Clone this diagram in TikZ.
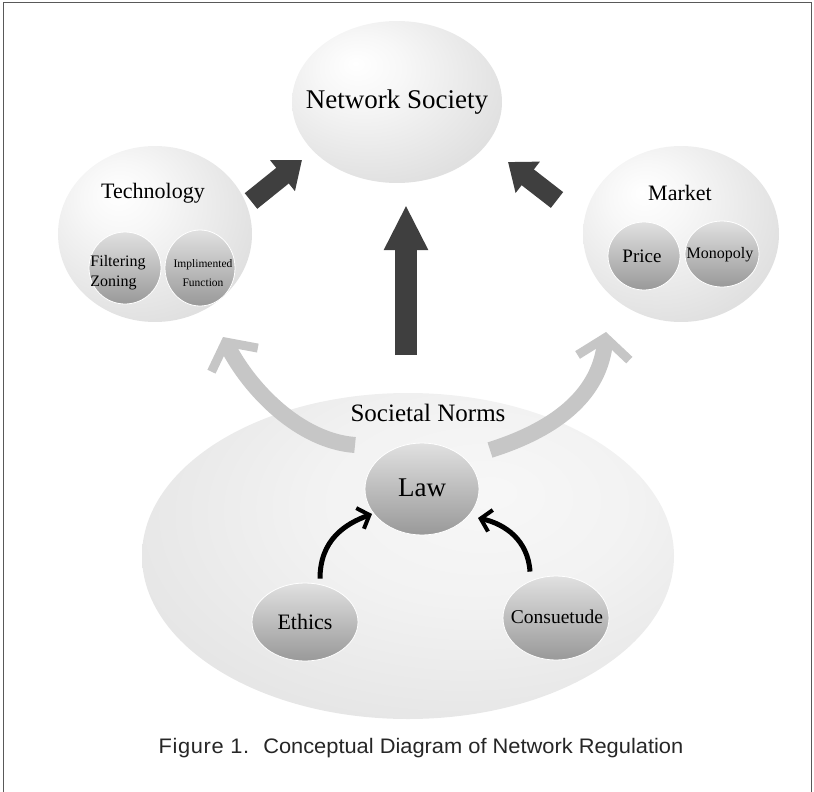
\documentclass[tikz,border=0pt]{standalone}
\usepackage{fontspec}
\setmainfont{Liberation Serif}
\newfontfamily\capfont[FakeStretch=1.04]{Liberation Sans}
\usetikzlibrary{shapes.geometric,arrows.meta}
\pgfdeclareradialshading{softball}{\pgfpoint{-10bp}{12bp}}{color(0bp)=(white); color(10bp)=(white!97!black); color(45bp)=(white!83!black); color(75bp)=(white!68!black)}
\pgfdeclareradialshading{normball}{\pgfpoint{8bp}{10bp}}{color(0bp)=(white!97!black); color(15bp)=(white!95!black); color(50bp)=(white!85!black); color(75bp)=(white!78!black)}
\definecolor{darkarr}{HTML}{3F3F3F}
\definecolor{lightarr}{HTML}{C6C6C6}
\tikzset{
  outerblob/.style={ellipse, inner sep=0pt, shading=softball},
  normblob/.style={ellipse, inner sep=0pt, shading=normball},
  innerball/.style={ellipse, inner sep=0pt, top color=white!88!black, bottom color=white!60!black, draw=white, line width=0.8pt},
  lbl/.style={inner sep=0pt, text=black},
  bigarr/.style={draw=darkarr, line width=#1, line cap=butt},
  lightcurve/.style={draw=lightarr, line width=16pt, line cap=butt, -{Straight Barb[length=20pt,width=52pt,line width=9pt]}},
  blackcurve/.style={draw=black, line width=5pt, line cap=butt, -{Straight Barb[length=10pt,width=22pt,line width=4pt]}},
}
\begin{document}
\begin{tikzpicture}[x=1pt,y=-1pt]
\useasboundingbox (0,0) rectangle (814,792);
\draw[gray!70!black, line width=1pt] (3,800) -- (3,3) -- (811,3) -- (811,800);

% outer ellipses
\node[outerblob, minimum width=210pt, minimum height=162pt] (ns) at (397,102) {};
\node[outerblob, minimum width=194pt, minimum height=176pt] (tech) at (155,234) {};
\node[outerblob, minimum width=196pt, minimum height=176pt] (mkt) at (681,234) {};
\node[normblob, minimum width=532pt, minimum height=326pt] (norms) at (408,556) {};

% labels
\node[lbl, font=\fontsize{27}{30}\selectfont] (nslbl) at (ns.center) {Network Society};
\node[lbl, font=\fontsize{22}{24}\selectfont] (techlbl) at (153,193) {Technology};
\node[lbl, font=\fontsize{22}{24}\selectfont] (mktlbl) at (680,193) {Market};
\node[lbl, font=\fontsize{25}{28}\selectfont] (normslbl) at (428,413) {Societal Norms};

% inner balls
\node[innerball, minimum width=72pt, minimum height=72pt] (filt) at (125,268) {};
\node[innerball, minimum width=70pt, minimum height=76pt] (impl) at (200,268) {};
\node[lbl, font=\fontsize{16}{20}\selectfont, align=left] (filtlbl) at (118,273) {Filtering\\Zoning};
\node[lbl, font=\fontsize{11.5}{19}\selectfont, align=center] (impllbl) at (203,273) {Implimented\\Function};
\node[innerball, minimum width=72pt, minimum height=68pt] (price) at (644,256) {};
\node[innerball, minimum width=74pt, minimum height=66pt] (mono) at (722,254) {};
\node[lbl, font=\fontsize{19}{22}\selectfont] (pricelbl) at (642,256) {Price};
\node[lbl, font=\fontsize{16}{20}\selectfont] (monolbl) at (720,255) {Monopoly};

% dark arrows
\coordinate (vt) at (406,355);
\coordinate (vh) at (406,205);
\draw[bigarr=22pt, -{Triangle[length=45pt,width=41pt]}] (vt) -- (vh);
\coordinate (lt) at (251,201);
\coordinate (lh) at (302,160);
\draw[bigarr=20pt, -{Triangle[length=25pt,width=38pt]}] (lt) -- (lh);
\coordinate (rt) at (557,200);
\coordinate (rh) at (508,162);
\draw[bigarr=20pt, -{Triangle[length=25pt,width=38pt]}] (rt) -- (rh);

% light curved arrows
\coordinate (llt) at (355,445);
\coordinate (llh) at (223,337);
\draw[lightcurve] (llt) .. controls (300,441) and (250,390) .. (llh);
\coordinate (rlt) at (490,450);
\coordinate (rlh) at (606,332);
\draw[lightcurve] (rlt) .. controls (560,428) and (600,392) .. (rlh);

% law, ethics, consuetude
\node[innerball, minimum width=114pt, minimum height=92pt] (law) at (422,489) {};
\node[innerball, minimum width=106pt, minimum height=78pt] (eth) at (305,622) {};
\node[innerball, minimum width=106pt, minimum height=84pt] (cons) at (556,618) {};
\node[lbl, font=\fontsize{27}{30}\selectfont] (lawlbl) at (422,488) {Law};
\node[lbl, font=\fontsize{22}{24}\selectfont] (ethlbl) at (305,622) {Ethics};
\node[lbl, font=\fontsize{19.5}{22}\selectfont] (conslbl) at (557,617) {Consuetude};

\draw[blackcurve] (eth.north) ++(15,-4) coordinate (et) .. controls (320,540) and (345,524) .. (372,514);
\draw[blackcurve] (cons.north) ++(-26,-4) coordinate (ct) .. controls (528,540) and (505,524) .. (478,518);

% caption
\node[lbl, font=\capfont\fontsize{21}{24}\selectfont, text=black!85] (cap) at (421,748) {{\addfontfeature{LetterSpace=3}Figure 1.}\hspace{14pt}Conceptual Diagram of Network Regulation};
\end{tikzpicture}
\end{document}
